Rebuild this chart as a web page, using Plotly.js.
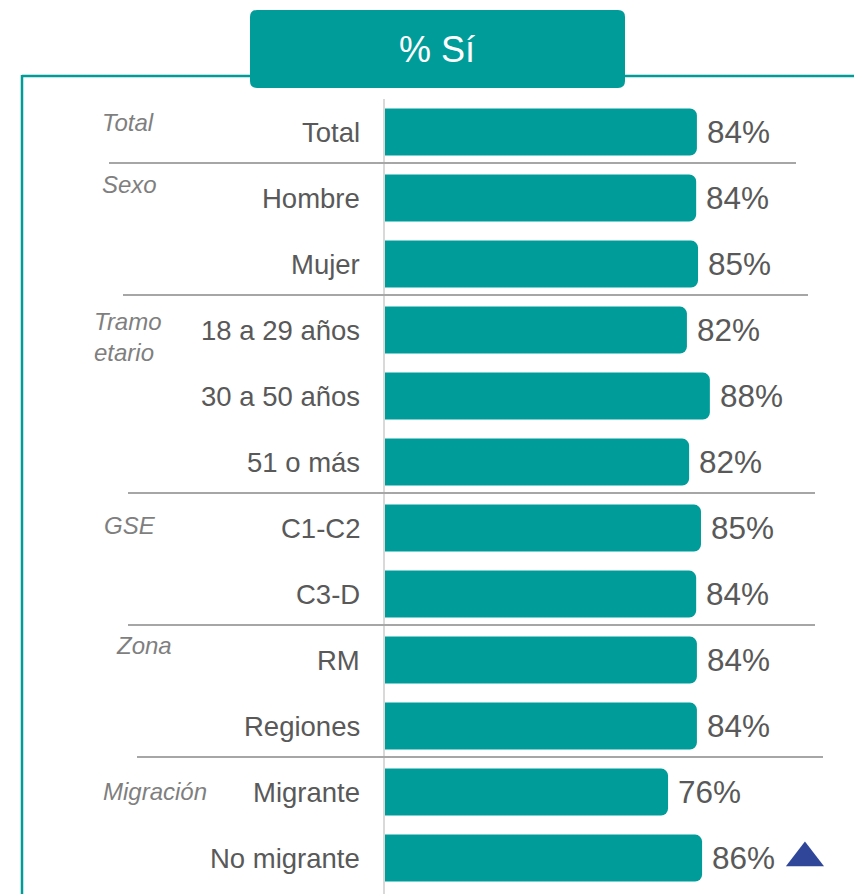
<!DOCTYPE html>
<html>
<head>
<meta charset="utf-8">
<script src="https://cdn.plot.ly/plotly-3.0.1.min.js"></script>
<style>
  html, body { margin: 0; padding: 0; background: #ffffff; }
  #chart { width: 854px; height: 894px; }
</style>
</head>
<body>
<div id="chart"></div>
<script>
// ---- Data ----
const categories = ["Total", "Hombre", "Mujer", "18 a 29 años", "30 a 50 años", "51 o más",
                    "C1-C2", "C3-D", "RM", "Regiones", "Migrante", "No migrante"];
const values = [84.3, 84.1, 84.6, 81.6, 87.8, 82.2, 85.4, 84.1, 84.3, 84.3, 76.5, 85.7];
const valueLabels = ["84%", "84%", "85%", "82%", "88%", "82%", "85%", "84%", "84%", "84%", "76%", "86%"];
const significance = ["", "", "", "", "", "", "", "", "", "", "", "up"];
const groupNames = ["Total", "Sexo", "Tramo<br>etario", "GSE", "Zona", "Migración"];
const groupFirstIndex = [0, 1, 3, 6, 8, 10];
const chartTitle = "% Sí";

// ---- Layout helpers (pixel -> paper) ----
const W = 854, H = 894;
const px = v => v / W;
const py = v => 1 - v / H;
const TEAL = "#009C99";
const FONT = "Liberation Sans, Arial, sans-serif";

function roundedRectPath(x0, y0, x1, y1, r) {
  const X = v => px(v).toFixed(6), Y = v => py(v).toFixed(6);
  return `M${X(x0 + r)},${Y(y0)} L${X(x1 - r)},${Y(y0)} Q${X(x1)},${Y(y0)} ${X(x1)},${Y(y0 + r)} ` +
         `L${X(x1)},${Y(y1 - r)} Q${X(x1)},${Y(y1)} ${X(x1 - r)},${Y(y1)} ` +
         `L${X(x0 + r)},${Y(y1)} Q${X(x0)},${Y(y1)} ${X(x0)},${Y(y1 - r)} ` +
         `L${X(x0)},${Y(y0 + r)} Q${X(x0)},${Y(y0)} ${X(x0 + r)},${Y(y0)} Z`;
}

const barTrace = {
  type: "bar",
  orientation: "h",
  x: values,
  y: categories,
  width: 0.71,
  marker: { color: TEAL, cornerradius: 7, line: { width: 0 } },
  hoverinfo: "skip"
};

const sigX = [], sigY = [];
significance.forEach((s, i) => { if (s === "up") { sigX.push(values[i] + 27.8); sigY.push(categories[i]); } });
const sigTrace = {
  type: "scatter",
  mode: "markers",
  x: sigX,
  y: sigY,
  marker: { symbol: "triangle-up", size: 33, color: "#2F4699" },
  hoverinfo: "skip",
  cliponaxis: false
};

const annotations = [];
// category labels
categories.forEach((c, i) => annotations.push({
  xref: "paper", yref: "y", x: px(362), y: c, xanchor: "right", yanchor: "middle",
  text: c, showarrow: false, font: { family: FONT, size: 27.5, color: "#595959" }
}));
// value labels
values.forEach((v, i) => annotations.push({
  xref: "x", yref: "y", x: v, y: categories[i], xanchor: "left", yanchor: "middle", xshift: 8,
  text: valueLabels[i], showarrow: false, font: { family: FONT, size: 31.5, color: "#595959" }
}));
// group labels (italic)
const groupLabelPos = [[100, 123], [100, 184], [92, 337], [102, 525], [114, 645], [101, 791]];
groupNames.forEach((g, i) => annotations.push({
  xref: "paper", yref: "paper", x: px(groupLabelPos[i][0]), y: py(groupLabelPos[i][1]),
  xanchor: "left", yanchor: "middle", align: "left",
  text: "<i>" + g + "</i>", showarrow: false,
  font: { family: FONT, size: 24, color: "#7F7F7F" }
}));
// title
annotations.push({
  xref: "paper", yref: "paper", x: px(437.5), y: py(50), xanchor: "center", yanchor: "middle",
  text: chartTitle, showarrow: false, font: { family: FONT, size: 36, color: "#ffffff" }
});

const shapes = [];
// separators between groups
const sepX = [[109, 796], [123, 808], [128, 815], [128, 815], [137, 823]];
groupFirstIndex.slice(1).forEach((gi, k) => shapes.push({
  type: "line", xref: "paper", yref: "y",
  x0: px(sepX[k][0]), x1: px(sepX[k][1]), y0: gi - 0.53, y1: gi - 0.53,
  line: { color: "#A6A6A6", width: 2 }
}));
// frame
shapes.push({ type: "line", xref: "paper", yref: "paper", x0: px(22), x1: px(252), y0: py(76), y1: py(76), line: { color: TEAL, width: 2.5 } });
shapes.push({ type: "line", xref: "paper", yref: "paper", x0: px(622), x1: px(854), y0: py(76), y1: py(76), line: { color: TEAL, width: 2.5 } });
shapes.push({ type: "line", xref: "paper", yref: "paper", x0: px(22), x1: px(22), y0: py(75), y1: py(894), line: { color: TEAL, width: 2.5 } });
// title box
shapes.push({ type: "path", xref: "paper", yref: "paper", path: roundedRectPath(250, 10, 625, 88, 7),
  fillcolor: TEAL, line: { width: 0 } });

const layout = {
  width: W, height: H,
  margin: { l: 0, r: 0, t: 0, b: 0, pad: 0 },
  paper_bgcolor: "#ffffff", plot_bgcolor: "rgba(0,0,0,0)",
  showlegend: false,
  bargap: 0.29,
  xaxis: {
    domain: [px(385), 1], range: [0, 469 / 3.7],
    showgrid: false, zeroline: false, showticklabels: false, showline: false, ticks: "", fixedrange: true
  },
  yaxis: {
    domain: [0, py(99)], range: [11.545, -0.5], type: "category",
    showgrid: false, zeroline: false, showticklabels: false, ticks: "",
    showline: true, linecolor: "#D9D9D9", linewidth: 2, fixedrange: true
  },
  annotations: annotations,
  shapes: shapes
};

Plotly.newPlot("chart", [barTrace, sigTrace], layout, { staticPlot: true, displayModeBar: false });
</script>
</body>
</html>
